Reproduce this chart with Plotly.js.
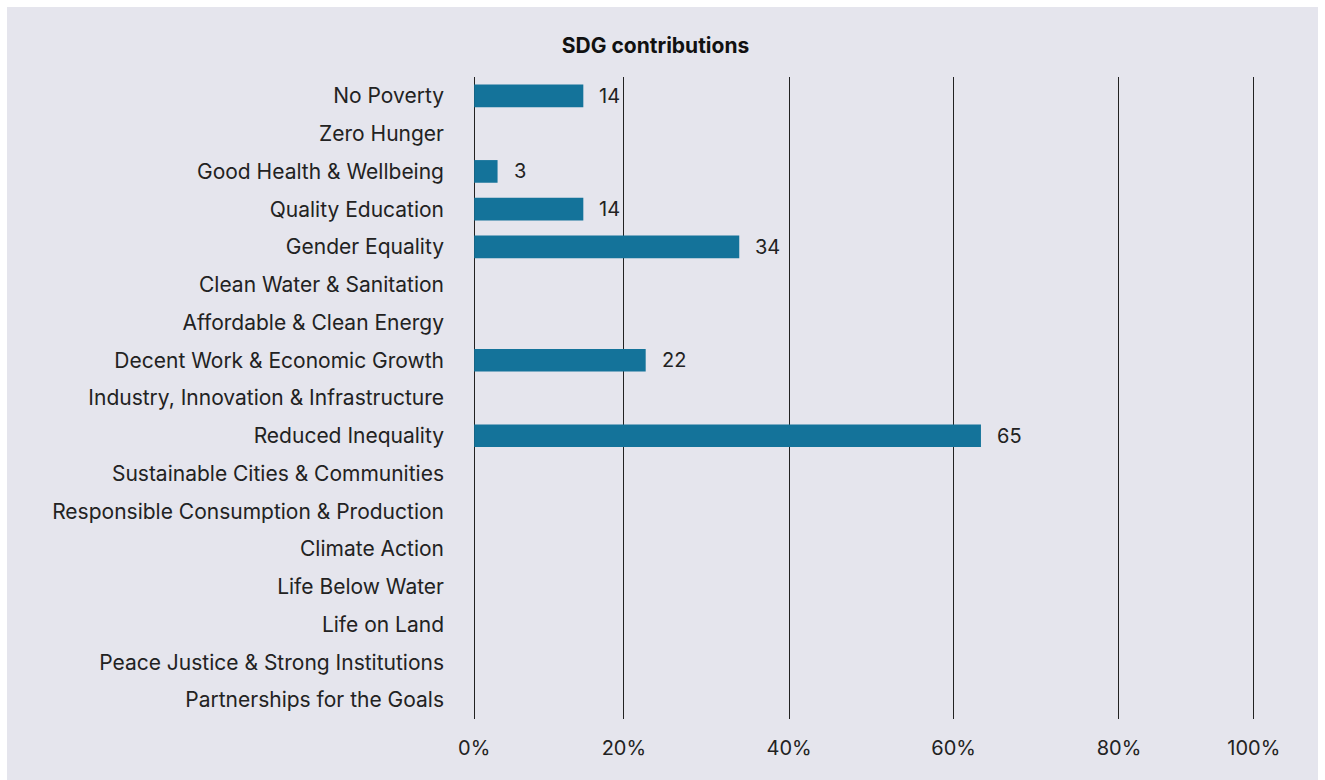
<!DOCTYPE html>
<html>
<head>
<meta charset="utf-8">
<script src="https://cdn.plot.ly/plotly-3.0.1.min.js"></script>
<style>
  html, body { margin: 0; padding: 0; background: #ffffff; }
  #chart { position: absolute; left: 7px; top: 7px; width: 1311px; height: 773px; }
</style>
</head>
<body>
<div id="chart"></div>
<script>
const categories = [
  "No Poverty", "Zero Hunger", "Good Health & Wellbeing", "Quality Education",
  "Gender Equality", "Clean Water & Sanitation", "Affordable & Clean Energy",
  "Decent Work & Economic Growth", "Industry, Innovation & Infrastructure",
  "Reduced Inequality", "Sustainable Cities & Communities",
  "Responsible Consumption & Production", "Climate Action", "Life Below Water",
  "Life on Land", "Peace Justice & Strong Institutions", "Partnerships for the Goals"
];
const values = [14, 0, 3, 14, 34, 0, 0, 22, 0, 65, 0, 0, 0, 0, 0, 0, 0];
const tickLabels = ["0%", "20%", "40%", "60%", "80%", "100%"];
// grid lines in the original are placed slightly unevenly
const tickPositions = [0, 19.2, 40.4, 61.5, 82.7, 100];

const FONT = "Inter, 'Liberation Sans', Arial, sans-serif";
const TXT = "#222222";

const bar = {
  type: "bar",
  orientation: "h",
  x: values,
  y: categories,
  marker: { color: "#14739a" },
  width: 0.6,
  hoverinfo: "x+y"
};

const annotations = [];
values.forEach((v, i) => {
  if (v > 0) {
    annotations.push({
      x: v, y: categories[i], xref: "x", yref: "y",
      text: String(v), showarrow: false, xanchor: "left", xshift: 14,
      font: { family: FONT, size: 20, color: TXT }
    });
  }
});

const layout = {
  width: 1311, height: 773,
  paper_bgcolor: "#e5e5ed",
  plot_bgcolor: "#e5e5ed",
  margin: { l: 466.3, r: 62.8, t: 70, b: 61 },
  title: {
    text: "<b>SDG contributions</b>",
    font: { family: FONT, size: 21, color: "#111111" },
    x: 0.4947, xref: "container", xanchor: "center",
    y: 1, yref: "container", yanchor: "top", pad: { t: 31 }
  },
  showlegend: false,
  xaxis: {
    range: [-0.15, 100.15],
    tickvals: tickPositions,
    ticktext: tickLabels,
    showgrid: true, gridcolor: "#222222", gridwidth: 1,
    zeroline: false, showline: false,
    ticks: "outside", ticklen: 0,
    ticklabelstandoff: 11,
    tickfont: { family: FONT, size: 20, color: TXT },
    fixedrange: true
  },
  yaxis: {
    type: "category",
    range: [16.5, -0.5],
    showgrid: false, zeroline: false, showline: false,
    ticks: "", ticklabelstandoff: 28,
    tickfont: { family: FONT, size: 21, color: TXT },
    fixedrange: true
  },
  annotations: annotations
};

Plotly.newPlot("chart", [bar], layout, { displayModeBar: false, staticPlot: true });
</script>
</body>
</html>
